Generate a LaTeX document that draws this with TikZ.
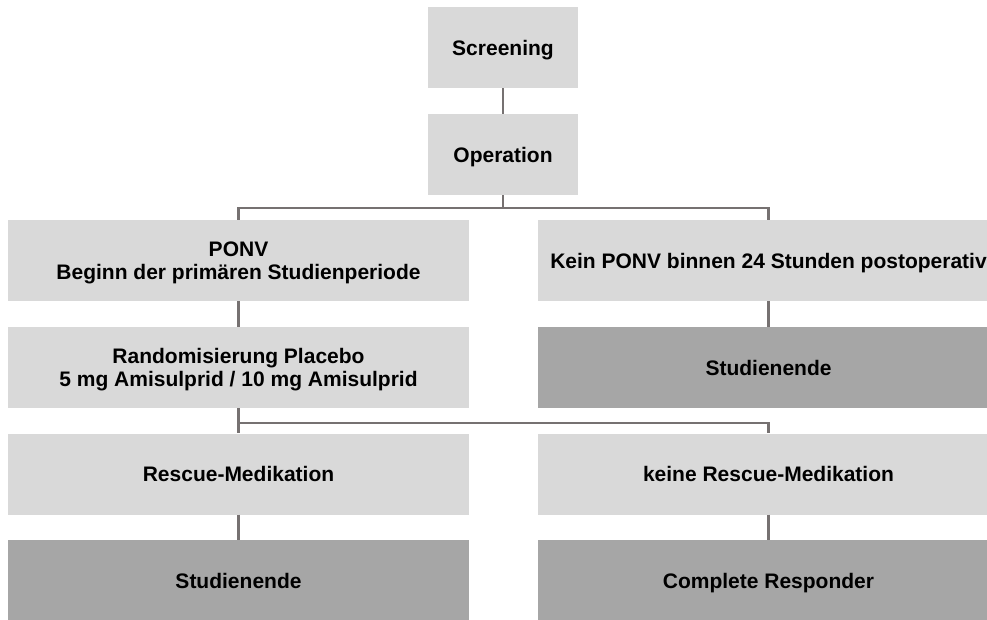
\documentclass[tikz,border=0pt]{standalone}
\usepackage{fontspec}
\setmainfont{Liberation Sans}
\definecolor{boxlight}{HTML}{D9D9D9}
\definecolor{boxdark}{HTML}{A6A6A6}
\definecolor{linegray}{RGB}{118,113,113}
\begin{document}
\begin{tikzpicture}[x=1pt,y=-1pt,
  box/.style={fill=boxlight,draw=none,inner sep=0pt,align=center,
    font=\fontsize{21}{23.5}\selectfont\bfseries},
  oneline/.style={text height=18.9pt,text depth=3.9pt},
  twoline/.style={text depth=0pt},
  wide/.style={box,minimum width=461pt,minimum height=81pt},
  small/.style={box,oneline,minimum width=149.5pt,minimum height=81pt},
  darkbox/.style={fill=boxdark},
  conn/.style={draw=linegray,line width=2.5pt}]
\useasboundingbox (0,0) rectangle (987,619);
\clip (0,0) rectangle (987,619);
\node[small] (scr) at (503,47.5) {Screening};
\node[small] (op) at (503,154.5) {Operation};
\node[wide,twoline] (ponv) at (238.5,260.5) {PONV\\Beginn der primären Studienperiode};
\node[wide,oneline] (kein) at (768.5,260.5) {Kein PONV binnen 24 Stunden postoperativ};
\node[wide,twoline] (rand) at (238.5,367.5) {Randomisierung Placebo\\5 mg Amisulprid / 10 mg Amisulprid};
\node[wide,oneline,darkbox] (end1) at (768.5,367.5) {Studienende};
\node[wide,oneline] (resc) at (238.5,474) {Rescue-Medikation};
\node[wide,oneline] (nores) at (768.5,474) {keine Rescue-Medikation};
\node[wide,oneline,darkbox] (end2) at (238.5,580.5) {Studienende};
\node[wide,oneline,darkbox] (compl) at (768.5,580.5) {Complete Responder};
\coordinate (j1) at (503,208);
\coordinate (j1l) at (238.5,208);
\coordinate (j1r) at (768.5,208);
\coordinate (j2l) at (238.5,423);
\coordinate (j2r) at (768.5,423);
\draw[conn] (scr.south) -- (op.north);
\draw[conn] (op.south) -- (j1);
\draw[conn] (ponv.north) -- (j1l) -- (j1r) -- (kein.north);
\draw[conn] (ponv.south) -- (rand.north);
\draw[conn] (kein.south) -- (end1.north);
\draw[conn] (rand.south) -- (resc.north);
\draw[conn] (j2l) -- (j2r) -- (nores.north);
\draw[conn] (resc.south) -- (end2.north);
\draw[conn] (nores.south) -- (compl.north);
\end{tikzpicture}
\end{document}
